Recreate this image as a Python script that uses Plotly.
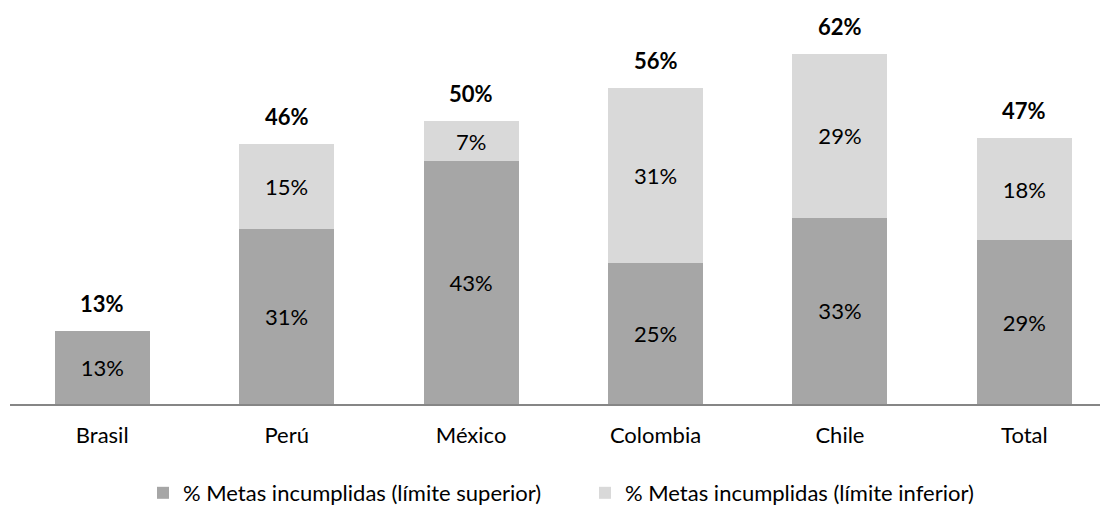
import plotly.graph_objects as go

categories = ["Brasil", "Perú", "México", "Colombia", "Chile", "Total"]
superior = [0.13, 0.31, 0.43, 0.25, 0.33, 0.29]
inferior = [None, 0.15, 0.07, 0.31, 0.29, 0.18]
totals = [0.13, 0.46, 0.50, 0.56, 0.62, 0.47]

name_sup = "% Metas incumplidas (límite superior)"
name_inf = "% Metas incumplidas (límite inferior)"

FONT = "Lato"
FS = 22

fig = go.Figure()
fig.add_trace(go.Bar(
    x=categories, y=superior, name=name_sup,
    marker=dict(color="#a6a6a6", line=dict(width=0)),
    text=[f"{v:.0%}" for v in superior], textposition="inside",
    insidetextanchor="middle", textangle=0,
    textfont=dict(family=FONT, size=FS, color="#000000"),
    width=0.515,
))
fig.add_trace(go.Bar(
    x=categories, y=inferior, name=name_inf,
    marker=dict(color="#d9d9d9", line=dict(width=0)),
    text=["" if v is None else f"{v:.0%}" for v in inferior], textposition="inside",
    insidetextanchor="middle", textangle=0,
    textfont=dict(family=FONT, size=FS, color="#000000"),
    width=0.515,
))

for c, t in zip(categories, totals):
    fig.add_annotation(
        x=c, y=t, text=f"<b>{t:.0%}</b>", showarrow=False,
        yanchor="bottom", yshift=12,
        font=dict(family=FONT, size=FS, color="#000000"),
    )

fig.update_layout(
    barmode="stack",
    width=1100, height=505,
    margin=dict(l=10, r=0, t=0, b=101, autoexpand=False),
    plot_bgcolor="white", paper_bgcolor="white",
    font=dict(family=FONT, size=FS, color="#000000"),
    showlegend=True,
    legend=dict(
        orientation="h", x=0.122, xanchor="left", y=-0.2203, yanchor="middle",
        font=dict(family=FONT, size=FS, color="#000000"),
        entrywidth=397, entrywidthmode="pixels",
        itemwidth=30, traceorder="normal",
    ),
    xaxis=dict(
        range=[-0.5, 5.41], showgrid=False, zeroline=False,
        showline=True, linecolor="#868686", linewidth=2,
        ticks="outside", ticklen=11, tickcolor="rgba(0,0,0,0)",
        tickfont=dict(family=FONT, size=FS, color="#000000"),
        fixedrange=True,
    ),
    yaxis=dict(
        range=[0, 0.715], visible=False, showgrid=False, zeroline=False,
        fixedrange=True,
    ),
)

fig.write_html("out.html")
